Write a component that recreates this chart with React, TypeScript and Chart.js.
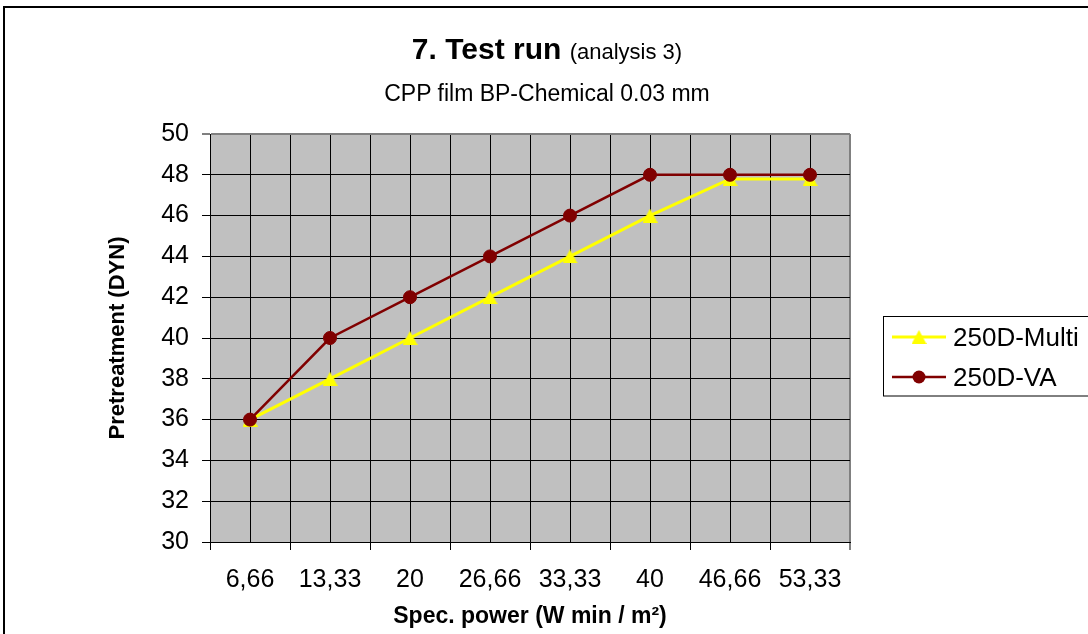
import React, { useEffect, useRef } from 'react';
import { Chart, registerables } from 'chart.js';

Chart.register(...registerables);

// ---- data ----
const categories = ['6,66', '13,33', '20', '26,66', '33,33', '40', '46,66', '53,33'];
const multiValues = [36, 38, 40, 42, 44, 46, 47.8, 47.8];
const vaValues = [36, 40, 42, 44, 46, 48, 48, 48];
const seriesNames = ['250D-Multi', '250D-VA'];
const yMin = 30;
const yMax = 50;
const yStep = 2;

const FONT = "'Liberation Sans', Arial, Helvetica, sans-serif";
const YELLOW = '#FFFF00';
const DARKRED = '#800000';
const PLOT_BG = '#C0C0C0';

function makeTriangle(w: number, h: number, color: string): HTMLCanvasElement {
  const c = document.createElement('canvas');
  c.width = w;
  c.height = h;
  const ctx = c.getContext('2d')!;
  ctx.fillStyle = color;
  ctx.beginPath();
  ctx.moveTo(w / 2, 0);
  ctx.lineTo(w, h);
  ctx.lineTo(0, h);
  ctx.closePath();
  ctx.fill();
  return c;
}

export default function App() {
  const canvasRef = useRef<HTMLCanvasElement | null>(null);

  useEffect(() => {
    const canvas = canvasRef.current;
    if (!canvas) return;
    const tri = makeTriangle(15, 14, YELLOW);
    const nCat = categories.length;

    const bgPlugin = {
      id: 'plotBg',
      beforeDraw(chart: any) {
        const { ctx, chartArea } = chart;
        ctx.save();
        ctx.fillStyle = '#FFFFFF';
        ctx.fillRect(0, 0, chart.width, chart.height);
        ctx.fillStyle = PLOT_BG;
        ctx.fillRect(chartArea.left, chartArea.top, chartArea.right - chartArea.left, chartArea.bottom - chartArea.top);
        ctx.restore();
      },
    };

    const frameLegendPlugin = {
      id: 'frameLegend',
      afterDraw(chart: any) {
        const ctx = chart.ctx as CanvasRenderingContext2D;
        ctx.save();
        // outer frame
        ctx.strokeStyle = '#000';
        ctx.lineWidth = 2;
        ctx.strokeRect(4, 7, 1200, 1000);
        // legend box
        ctx.fillStyle = '#FFFFFF';
        ctx.fillRect(883.5, 316.5, 300, 79.5);
        ctx.lineWidth = 1;
        ctx.strokeStyle = '#000';
        ctx.strokeRect(883.5, 316.5, 300, 79.5);
        // row 1
        ctx.strokeStyle = YELLOW;
        ctx.lineWidth = 3;
        ctx.beginPath();
        ctx.moveTo(892, 337);
        ctx.lineTo(946, 337);
        ctx.stroke();
        ctx.drawImage(tri, 919 - 7.5, 337 - 7);
        // row 2
        ctx.strokeStyle = DARKRED;
        ctx.lineWidth = 2.5;
        ctx.beginPath();
        ctx.moveTo(892, 377);
        ctx.lineTo(946, 377);
        ctx.stroke();
        ctx.fillStyle = DARKRED;
        ctx.beginPath();
        ctx.arc(919, 377, 6.5, 0, Math.PI * 2);
        ctx.fill();
        // texts
        ctx.fillStyle = '#000';
        ctx.font = `26px ${FONT}`;
        ctx.textBaseline = 'alphabetic';
        ctx.textAlign = 'left';
        ctx.fillText(seriesNames[0], 953, 346);
        ctx.fillText(seriesNames[1], 953, 386);
        ctx.restore();
      },
    };

    const chart = new Chart(canvas, {
      type: 'line',
      data: {
        datasets: [
          {
            label: seriesNames[0],
            data: multiValues.map((v, i) => ({ x: i + 0.5, y: v })),
            borderColor: YELLOW,
            backgroundColor: YELLOW,
            borderWidth: 3,
            pointStyle: tri as any,
            pointRadius: 7,
            order: 1,
          },
          {
            label: seriesNames[1],
            data: vaValues.map((v, i) => ({ x: i + 0.5, y: v })),
            borderColor: DARKRED,
            backgroundColor: DARKRED,
            borderWidth: 2.5,
            pointStyle: 'circle',
            pointRadius: 6.5,
            pointBorderWidth: 1,
            pointBorderColor: DARKRED,
            pointBackgroundColor: DARKRED,
            order: 0,
          },
        ],
      },
      options: {
        animation: false,
        responsive: false,
        events: [],
        layout: { padding: { left: 90, right: 238, top: 134, bottom: 0 } },
        plugins: {
          legend: { display: false },
          tooltip: { enabled: false },
          title: { display: false },
        },
        scales: {
          x: {
            type: 'linear',
            min: 0,
            max: nCat,
            afterFit: (s: any) => {
              s.height = 92;
            },
            afterBuildTicks: (s: any) => {
              const t: { value: number }[] = [];
              for (let i = 0; i < nCat; i++) {
                t.push({ value: i });
                t.push({ value: i + 0.5 });
              }
              t.push({ value: nCat });
              s.ticks = t;
            },
            ticks: {
              autoSkip: false,
              maxRotation: 0,
              minRotation: 0,
              padding: 15,
              color: '#000',
              font: { family: FONT, size: 25 },
              callback: (v: any) => {
                const n = Number(v);
                return Number.isInteger(n) ? '' : categories[Math.floor(n)];
              },
            },
            grid: {
              color: (c: any) => (c.tick && c.tick.value === nCat ? '#808080' : '#000000'),
              lineWidth: (c: any) => (c.tick && c.tick.value === nCat ? 2 : 1),
              tickColor: (c: any) => (c.tick && Number.isInteger(c.tick.value) ? '#000000' : 'rgba(0,0,0,0)'),
              tickLength: 8,
              tickWidth: 1,
              drawTicks: true,
            },
            border: { display: true, color: '#000', width: 1 },
            title: {
              display: true,
              text: 'Spec. power (W min / m²)',
              color: '#000',
              font: { family: FONT, size: 23, weight: 'bold' },
              padding: { top: 0, bottom: 4 },
            },
          },
          y: {
            min: yMin,
            max: yMax,
            afterFit: (s: any) => {
              s.width = 120;
            },
            ticks: {
              stepSize: yStep,
              padding: 13,
              color: '#000',
              font: { family: FONT, size: 25 },
            },
            grid: {
              color: (c: any) => (c.tick && c.tick.value === yMax ? '#808080' : '#000000'),
              lineWidth: (c: any) => (c.tick && c.tick.value === yMax ? 2 : 1),
              tickColor: '#000000',
              tickLength: 8,
              tickWidth: 1,
            },
            border: { display: true, color: '#000', width: 1 },
            title: {
              display: true,
              text: 'Pretreatment (DYN)',
              color: '#000',
              font: { family: FONT, size: 22, weight: 'bold' },
              padding: { top: 15, bottom: 0 },
            },
          },
        },
      } as any,
      plugins: [bgPlugin, frameLegendPlugin],
    });

    return () => {
      chart.destroy();
    };
  }, []);

  return (
    <div style={{ position: 'absolute', left: 0, top: 0, width: 1088, height: 634, overflow: 'hidden', background: '#fff' }}>
      <canvas ref={canvasRef} width={1088} height={634} style={{ display: 'block', width: 1088, height: 634 }} />
      <div
        style={{
          position: 'absolute',
          left: 0,
          top: 31,
          width: 1094,
          textAlign: 'center',
          whiteSpace: 'nowrap',
          fontFamily: FONT,
          fontSize: 30,
          fontWeight: 'bold',
          lineHeight: '36px',
          color: '#000',
        }}
      >
        7. Test run <span style={{ fontSize: 22, fontWeight: 'normal' }}>(analysis 3)</span>
      </div>
      <div
        style={{
          position: 'absolute',
          left: 0,
          top: 79,
          width: 1094,
          textAlign: 'center',
          whiteSpace: 'nowrap',
          fontFamily: FONT,
          fontSize: 23,
          lineHeight: '28px',
          color: '#000',
        }}
      >
        CPP film BP-Chemical 0.03 mm
      </div>
    </div>
  );
}
